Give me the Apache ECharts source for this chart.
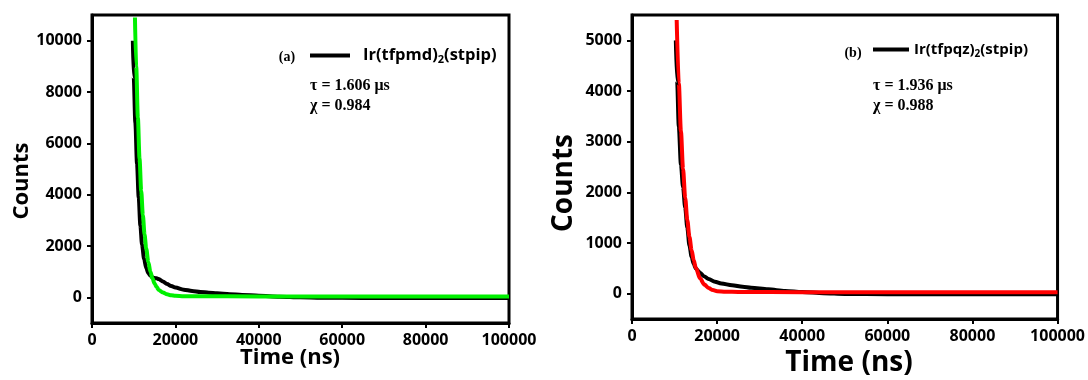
<!DOCTYPE html>
<html>
<head>
<meta charset="utf-8">
<script src="https://cdn.jsdelivr.net/npm/echarts@6/dist/echarts.min.js"></script>
<style>
html,body{margin:0;padding:0;background:#fff;}
#c{width:1088px;height:380px;}
</style>
</head>
<body>
<div id="c"></div>
<script>
// ---------- data ----------
const nameA = 'Ir(tfpmd)2(stpip)';
const nameB = 'Ir(tfpqz)2(stpip)';

// panel (a): measured decay
const timeA = [9800,10000,10400,10800,11200,11600,12000,12500,13000,13500,14000,14500,15000,15500,16000,17000,18000,19000,20000,22000,24000,26000,28000,30000,33000,36000,40000,45000,50000,55000,60000,70000,80000,90000,100000];
const countsA = [10000,8600,6800,5200,3900,2800,2050,1500,1150,950,840,780,750,740,710,620,520,440,380,300,250,210,180,155,125,95,60,25,0,-15,-20,-25,-25,-25,-25];
// panel (a): fit
const fitTimeA = [10300,10600,11000,11400,11800,12200,12600,13000,13500,14000,14500,15000,15500,16000,17000,18000,19000,20000,22000,25000,40000,60000,80000,100000];
const fitCountsA = [10900,9000,7000,5400,4150,3200,2450,1900,1380,1000,740,540,400,290,190,120,80,60,45,40,35,32,30,30];

// panel (b): measured decay
const timeB = [10300,10600,11000,11500,12000,12500,13000,13500,14000,14500,15000,15500,16000,17000,18000,19500,21000,23500,26000,28000,32000,36000,40000,45000,50000,60000,80000,100000];
const countsB = [5000,4200,3300,2550,2100,1700,1300,950,730,590,500,450,410,340,290,235,200,165,135,115,85,55,33,10,-5,-12,-13,-13];
// panel (b): fit
const fitTimeB = [10500,11000,11500,12000,12500,13000,13500,14000,14500,15000,16000,17000,18000,19000,20000,22000,25000,40000,60000,80000,100000];
const fitCountsB = [5400,4150,3200,2460,1890,1450,1120,860,660,510,300,180,110,70,50,38,33,30,30,30,30];

// axis ticks
const xTicks = [0,20000,40000,60000,80000,100000];
const yTicksA = [0,2000,4000,6000,8000,10000];
const yMinorA = [1000,3000,5000,7000,9000];
const yTicksB = [0,1000,2000,3000,4000,5000];
const yMinorB = [500,1500,2500,3500,4500];

const annotA = { tag: '(a)', tau: 'τ = 1.606 μs', chi: 'χ = 0.984' };
const annotB = { tag: '(b)', tau: 'τ = 1.936 μs', chi: 'χ = 0.988' };

// ---------- chart ----------
const zip = (xs, ys) => xs.map((x, i) => [x, ys[i]]);
const FONT = '"Open Sans", "DejaVu Sans", sans-serif';
const SERIF = '"Liberation Serif", "DejaVu Serif", serif';
const plain = v => String(v);

function xAxisCfg(grid) {
  return {
    type: 'value', gridIndex: grid, min: 0, max: 100000, interval: 20000,
    axisLine: { show: true, onZero: false, lineStyle: { color: '#000', width: 3 } },
    axisTick: { show: true, inside: false, length: 5, lineStyle: { color: '#000', width: 2 } },
    minorTick: { show: true, splitNumber: 2, length: 2, lineStyle: { color: '#000', width: 2 } },
    splitLine: { show: false },
    axisLabel: { color: '#000', fontFamily: FONT, fontWeight: 'bold', fontSize: 16, margin: 9,
      customValues: xTicks, formatter: plain }
  };
}
function yAxisCfg(grid, min, max, ticks) {
  return {
    type: 'value', gridIndex: grid, min: min, max: max,
    axisLine: { show: true, onZero: false, lineStyle: { color: '#000', width: 3 } },
    axisTick: { show: true, inside: false, length: 5, customValues: ticks, lineStyle: { color: '#000', width: 2 } },
    splitLine: { show: false },
    axisLabel: { color: '#000', fontFamily: FONT, fontWeight: 'bold', fontSize: 16, margin: 10,
      customValues: ticks, formatter: plain }
  };
}
function yMinorCfg(grid, min, max, ticks) {
  return {
    type: 'value', gridIndex: grid, min: min, max: max,
    axisLine: { show: false },
    axisTick: { show: true, inside: false, length: 2, customValues: ticks, lineStyle: { color: '#000', width: 2 } },
    splitLine: { show: false },
    axisLabel: { show: false }
  };
}

const richLegend = (size, sub) => ({
  g: { width: 8 },
  a: { fontFamily: FONT, fontWeight: 'bold', fontSize: size, color: '#000', lineHeight: 20 },
  s: { fontFamily: FONT, fontWeight: 'bold', fontSize: sub, color: '#000', verticalAlign: 'bottom' }
});

const option = {
  animation: false,
  backgroundColor: '#fff',
  grid: [
    { left: 92, top: 15, width: 417, height: 308, show: true, borderColor: '#000', borderWidth: 3, backgroundColor: 'transparent' },
    { left: 632, top: 15, width: 426, height: 304, show: true, borderColor: '#000', borderWidth: 3, backgroundColor: 'transparent' }
  ],
  xAxis: [xAxisCfg(0), xAxisCfg(1)],
  yAxis: [
    yAxisCfg(0, -1000, 11000, yTicksA),
    yAxisCfg(1, -500, 5500, yTicksB),
    yMinorCfg(0, -1000, 11000, yMinorA),
    yMinorCfg(1, -500, 5500, yMinorB)
  ],
  legend: [
    { data: [nameA], left: 310, top: 47, padding: 0, selectedMode: false, icon: 'rect',
      itemWidth: 40, itemHeight: 4,
      formatter: () => '{g|}{a|Ir(tfpmd)}{s|2}{a|(stpip)}',
      textStyle: { rich: richLegend(16.5, 11) } },
    { data: [nameB], left: 873, top: 42, padding: 0, selectedMode: false, icon: 'rect',
      itemWidth: 36, itemHeight: 4,
      formatter: () => '{a|Ir(tfpqz)}{s|2}{a|(stpip)}',
      textStyle: { rich: richLegend(15, 10) } }
  ],
  series: [
    { name: nameA, type: 'line', xAxisIndex: 0, yAxisIndex: 0, data: zip(timeA, countsA),
      showSymbol: false, smooth: 0.3, smoothMonotone: 'x', color: '#000', lineStyle: { color: '#000', width: 4 } },
    { name: 'fitA', type: 'line', xAxisIndex: 0, yAxisIndex: 0, data: zip(fitTimeA, fitCountsA),
      showSymbol: false, smooth: 0.3, smoothMonotone: 'x', color: '#00f000', lineStyle: { color: '#00f000', width: 4 } },
    { name: nameB, type: 'line', xAxisIndex: 1, yAxisIndex: 1, data: zip(timeB, countsB),
      showSymbol: false, smooth: 0.3, smoothMonotone: 'x', color: '#000', lineStyle: { color: '#000', width: 4 } },
    { name: 'fitB', type: 'line', xAxisIndex: 1, yAxisIndex: 1, data: zip(fitTimeB, fitCountsB),
      showSymbol: false, smooth: 0.3, smoothMonotone: 'x', color: '#ff0000', lineStyle: { color: '#ff0000', width: 4 } }
  ],
  graphic: [
    { type: 'text', x: 22, y: 181, rotation: Math.PI / 2,
      style: { text: 'Counts', font: 'bold 22px ' + FONT, fill: '#000', align: 'center', verticalAlign: 'middle' } },
    { type: 'text', x: 290, y: 358,
      style: { text: 'Time (ns)', font: 'bold 22px ' + FONT, fill: '#000', align: 'center', verticalAlign: 'middle' } },
    { type: 'text', x: 564, y: 183, rotation: Math.PI / 2,
      style: { text: 'Counts', font: 'bold 28px ' + FONT, fill: '#000', align: 'center', verticalAlign: 'middle' } },
    { type: 'text', x: 849, y: 363,
      style: { text: 'Time (ns)', font: 'bold 28px ' + FONT, fill: '#000', align: 'center', verticalAlign: 'middle' } },

    { type: 'text', x: 287, y: 57,
      style: { text: annotA.tag, font: 'bold 14px ' + SERIF, fill: '#000', align: 'center', verticalAlign: 'middle' } },
    { type: 'text', x: 310, y: 86,
      style: { text: annotA.tau, font: 'bold 16px ' + SERIF, fill: '#000', align: 'left', verticalAlign: 'middle' } },
    { type: 'text', x: 310, y: 106,
      style: { text: annotA.chi, font: 'bold 16px ' + SERIF, fill: '#000', align: 'left', verticalAlign: 'middle' } },

    { type: 'text', x: 853, y: 53,
      style: { text: annotB.tag, font: 'bold 14px ' + SERIF, fill: '#000', align: 'center', verticalAlign: 'middle' } },
    { type: 'text', x: 873, y: 86,
      style: { text: annotB.tau, font: 'bold 16px ' + SERIF, fill: '#000', align: 'left', verticalAlign: 'middle' } },
    { type: 'text', x: 873, y: 106,
      style: { text: annotB.chi, font: 'bold 16px ' + SERIF, fill: '#000', align: 'left', verticalAlign: 'middle' } }
  ]
};

const chart = echarts.init(document.getElementById('c'), null, { renderer: 'canvas' });
chart.setOption(option);
</script>
</body>
</html>
